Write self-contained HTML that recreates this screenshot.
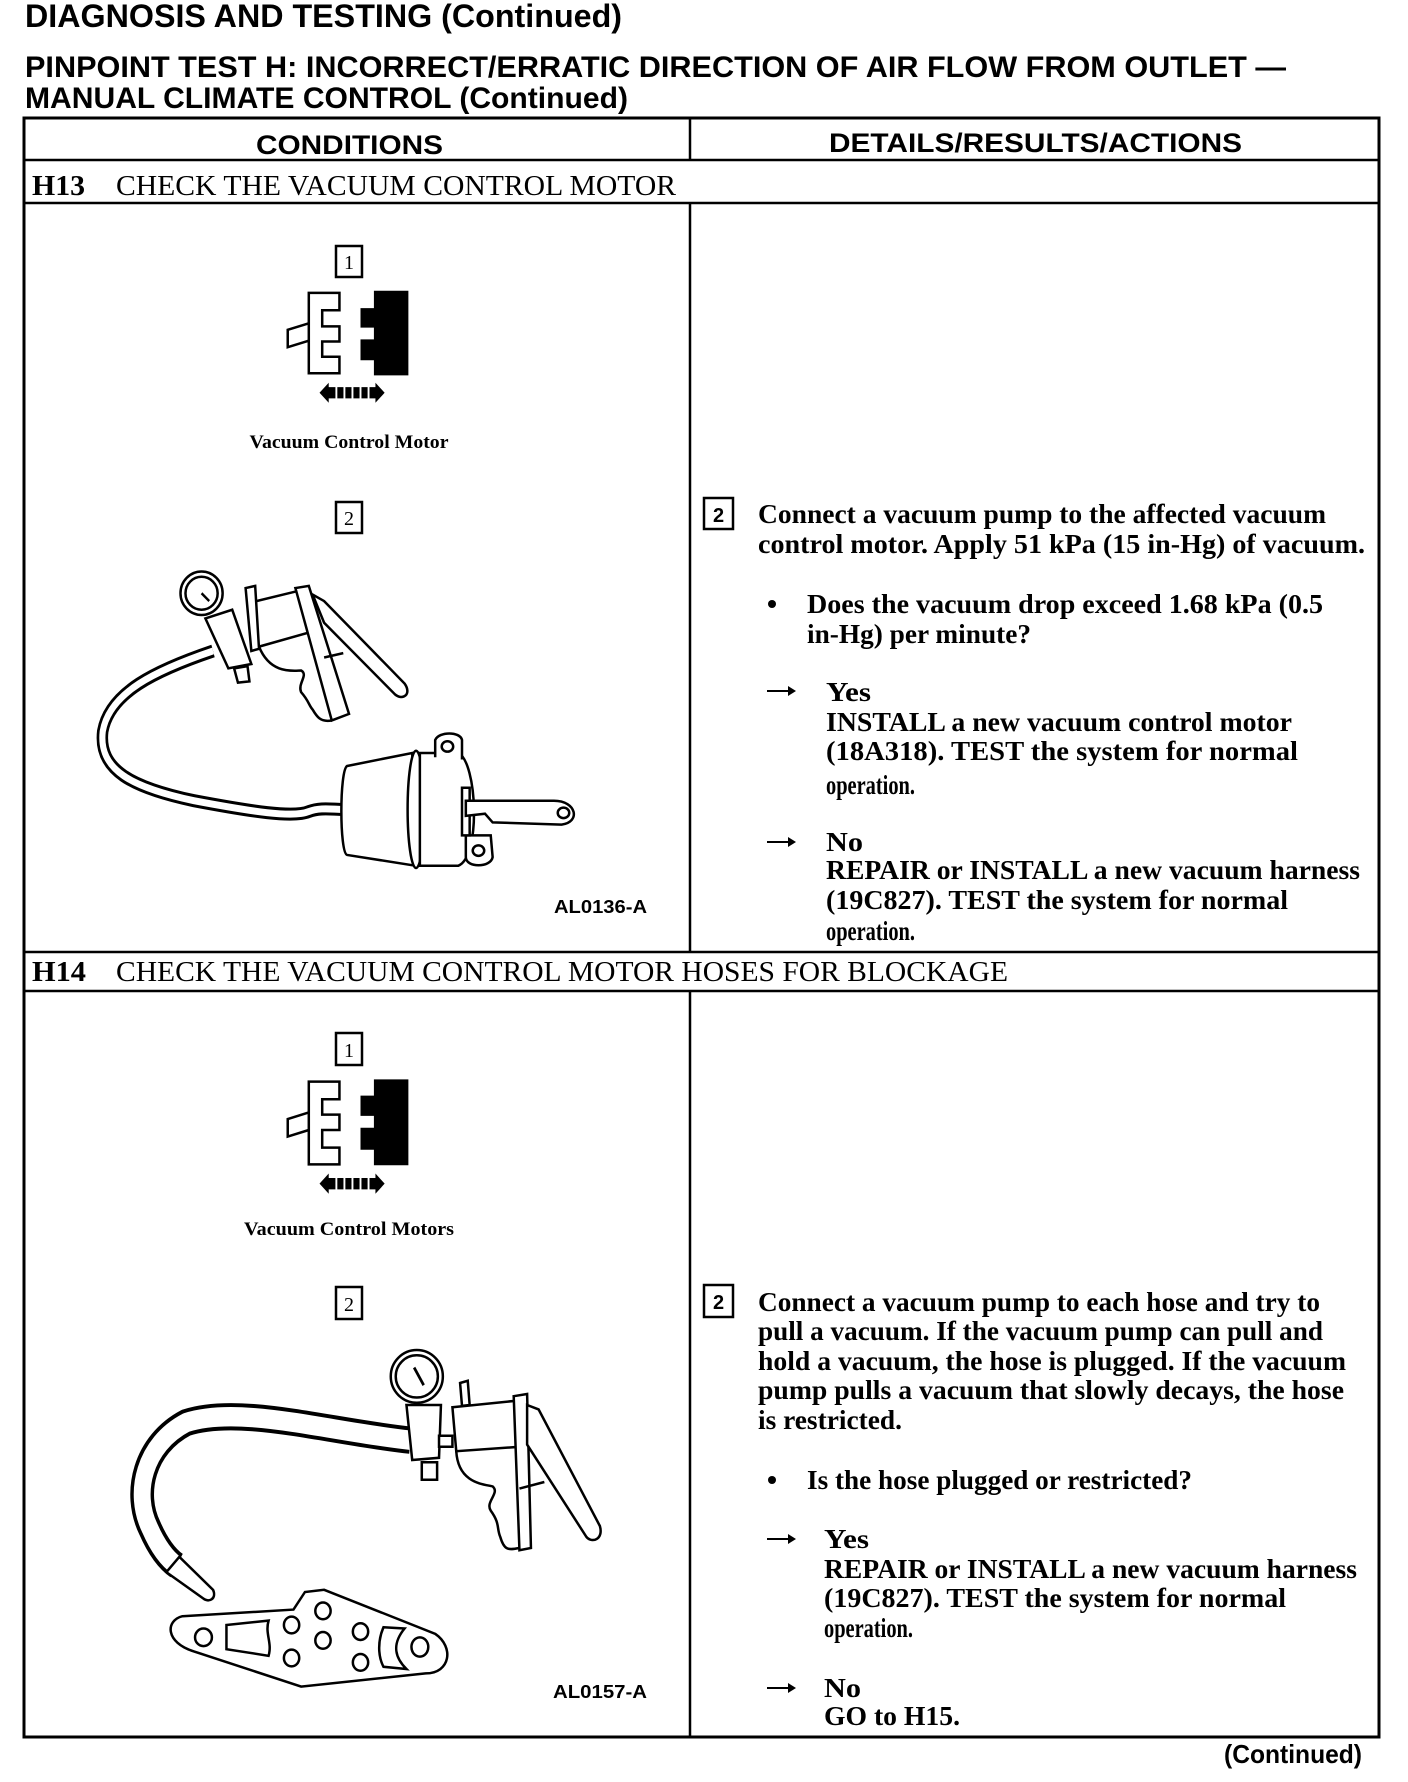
<!DOCTYPE html>
<html><head><meta charset="utf-8"><style>
html,body{margin:0;padding:0;background:#fff}
svg{display:block}
.s{font-family:"Liberation Sans",sans-serif;font-weight:bold}
.r{font-family:"Liberation Serif",serif;font-weight:bold}
</style></head><body>
<svg width="1408" height="1782" viewBox="0 0 1408 1782" xmlns="http://www.w3.org/2000/svg">
<rect width="1408" height="1782" fill="#fff"/>
<!-- headings -->
<text class="s" x="25" y="27" font-size="32" textLength="597" lengthAdjust="spacingAndGlyphs">DIAGNOSIS AND TESTING (Continued)</text>
<text class="s" x="25" y="77" font-size="30" textLength="1261" lengthAdjust="spacingAndGlyphs">PINPOINT TEST H: INCORRECT/ERRATIC DIRECTION OF AIR FLOW FROM OUTLET —</text>
<text class="s" x="25" y="108" font-size="30" textLength="603" lengthAdjust="spacingAndGlyphs">MANUAL CLIMATE CONTROL (Continued)</text>

<!-- table -->
<g stroke="#000" fill="none">
<rect x="24" y="118" width="1355" height="1619" stroke-width="3"/>
<line x1="24" y1="160" x2="1379" y2="160" stroke-width="2.5"/>
<line x1="24" y1="203" x2="1379" y2="203" stroke-width="2.5"/>
<line x1="24" y1="952" x2="1379" y2="952" stroke-width="2.5"/>
<line x1="24" y1="991" x2="1379" y2="991" stroke-width="2.5"/>
<line x1="690" y1="118" x2="690" y2="160" stroke-width="2.5"/>
<line x1="690" y1="203" x2="690" y2="952" stroke-width="2.5"/>
<line x1="690" y1="991" x2="690" y2="1737" stroke-width="2.5"/>
</g>
<text class="s" x="256" y="154" font-size="27" textLength="187" lengthAdjust="spacingAndGlyphs">CONDITIONS</text>
<text class="s" x="829" y="152" font-size="27" textLength="413" lengthAdjust="spacingAndGlyphs">DETAILS/RESULTS/ACTIONS</text>
<text class="r" x="32" y="195" font-size="28" textLength="53" lengthAdjust="spacingAndGlyphs">H13</text>
<text class="r" x="116" y="195" font-size="28" style="font-weight:normal" textLength="560" lengthAdjust="spacingAndGlyphs">CHECK THE VACUUM CONTROL MOTOR</text>
<text class="r" x="32" y="981" font-size="28" textLength="54" lengthAdjust="spacingAndGlyphs">H14</text>
<text class="r" x="116" y="981" font-size="28" style="font-weight:normal" textLength="892" lengthAdjust="spacingAndGlyphs">CHECK THE VACUUM CONTROL MOTOR HOSES FOR BLOCKAGE</text>
<text class="s" x="1224" y="1763" font-size="26" textLength="138" lengthAdjust="spacingAndGlyphs">(Continued)</text>

<!-- right text H13 -->
<rect x="704" y="498" width="29" height="31" fill="none" stroke="#000" stroke-width="2.5"/>
<text class="s" x="718.5" y="522" font-size="20" text-anchor="middle">2</text>
<g class="r" font-size="27">
<text x="758" y="523" textLength="568" lengthAdjust="spacingAndGlyphs">Connect a vacuum pump to the affected vacuum</text>
<text x="758" y="553" textLength="607" lengthAdjust="spacingAndGlyphs">control motor. Apply 51 kPa (15 in-Hg) of vacuum.</text>
<text x="807" y="613" textLength="516" lengthAdjust="spacingAndGlyphs">Does the vacuum drop exceed 1.68 kPa (0.5</text>
<text x="807" y="643" textLength="224" lengthAdjust="spacingAndGlyphs">in-Hg) per minute?</text>
<text x="826" y="701" textLength="45" lengthAdjust="spacingAndGlyphs">Yes</text>
<text x="826" y="731" textLength="466" lengthAdjust="spacingAndGlyphs">INSTALL a new vacuum control motor</text>
<text x="826" y="760" textLength="472" lengthAdjust="spacingAndGlyphs">(18A318).  TEST  the system for normal</text>
<text x="826" y="794" textLength="89" lengthAdjust="spacingAndGlyphs">operation.</text>
<text x="826" y="851" textLength="37" lengthAdjust="spacingAndGlyphs">No</text>
<text x="826" y="879" textLength="534" lengthAdjust="spacingAndGlyphs">REPAIR or INSTALL a new vacuum harness</text>
<text x="826" y="909" textLength="462" lengthAdjust="spacingAndGlyphs">(19C827). TEST the system for normal</text>
<text x="826" y="940" textLength="89" lengthAdjust="spacingAndGlyphs">operation.</text>
</g>
<circle cx="772" cy="604" r="4" fill="#000"/>
<g fill="#000">
<path d="M767 690 L788 690 L788 686 L796 691 L788 696 L788 692 L767 692 Z"/>
<path d="M767 841 L788 841 L788 837 L796 842 L788 847 L788 843 L767 843 Z"/>
</g>

<!-- right text H14 -->
<rect x="704" y="1285" width="29" height="32" fill="none" stroke="#000" stroke-width="2.5"/>
<text class="s" x="718.5" y="1309" font-size="20" text-anchor="middle">2</text>
<g class="r" font-size="27">
<text x="758" y="1311" textLength="562" lengthAdjust="spacingAndGlyphs">Connect a vacuum pump to each hose and try to</text>
<text x="758" y="1340" textLength="565" lengthAdjust="spacingAndGlyphs">pull a vacuum. If the vacuum pump can pull and</text>
<text x="758" y="1370" textLength="588" lengthAdjust="spacingAndGlyphs">hold a vacuum, the hose is plugged. If the vacuum</text>
<text x="758" y="1399" textLength="586" lengthAdjust="spacingAndGlyphs">pump pulls a vacuum that slowly decays, the hose</text>
<text x="758" y="1429" textLength="144" lengthAdjust="spacingAndGlyphs">is restricted.</text>
<text x="807" y="1489" textLength="385" lengthAdjust="spacingAndGlyphs">Is the hose plugged or restricted?</text>
<text x="824" y="1548" textLength="45" lengthAdjust="spacingAndGlyphs">Yes</text>
<text x="824" y="1578" textLength="533" lengthAdjust="spacingAndGlyphs">REPAIR or INSTALL a new vacuum harness</text>
<text x="824" y="1607" textLength="462" lengthAdjust="spacingAndGlyphs">(19C827). TEST the system for normal</text>
<text x="824" y="1637" textLength="89" lengthAdjust="spacingAndGlyphs">operation.</text>
<text x="824" y="1697" textLength="37" lengthAdjust="spacingAndGlyphs">No</text>
<text x="824" y="1725" textLength="136" lengthAdjust="spacingAndGlyphs">GO to H15.</text>
</g>
<circle cx="772" cy="1480" r="4" fill="#000"/>
<g fill="#000">
<path d="M767 1538 L788 1538 L788 1534 L796 1539 L788 1544 L788 1540 L767 1540 Z"/>
<path d="M767 1687 L788 1687 L788 1683 L796 1688 L788 1693 L788 1689 L767 1689 Z"/>
</g>

<!-- left labels -->
<text class="r" x="349" y="448" font-size="19" text-anchor="middle" textLength="199" lengthAdjust="spacingAndGlyphs">Vacuum Control Motor</text>
<text class="r" x="349" y="1235" font-size="19" text-anchor="middle" textLength="210" lengthAdjust="spacingAndGlyphs">Vacuum Control Motors</text>
<text class="s" x="554" y="913" font-size="18" textLength="93" lengthAdjust="spacingAndGlyphs">AL0136-A</text>
<text class="s" x="553" y="1698" font-size="18" textLength="94" lengthAdjust="spacingAndGlyphs">AL0157-A</text>
<g fill="none" stroke="#000" stroke-width="2.5">
<rect x="336" y="246" width="26" height="31"/>
<rect x="336" y="502" width="26" height="31"/>
<rect x="336" y="1033" width="26" height="32"/>
<rect x="336" y="1287" width="26" height="32"/>
</g>
<g class="r" font-size="20" text-anchor="middle" style="font-weight:normal">
<text x="349" y="269" style="font-weight:normal">1</text>
<text x="349" y="525" style="font-weight:normal">2</text>
<text x="349" y="1057" style="font-weight:normal">1</text>
<text x="349" y="1311" style="font-weight:normal">2</text>
</g>

<!-- H13 illustration (zoom coords) -->
<g transform="translate(79,230) scale(0.383,0.434)">
<g fill="none" stroke="#000" stroke-width="2.5">
<path vector-effect="non-scaling-stroke" d="M600 145 L680 145 L680 185 L635 185 L635 222 L680 222 L680 257 L635 257 L635 292 L680 292 L680 330 L600 330 Z"/>
<path vector-effect="non-scaling-stroke" d="M600 215 L545 230 L545 270 L600 255"/>
</g>
<path fill="#000" d="M770 140 L860 140 L860 335 L770 335 L770 300 L735 300 L735 252 L770 252 L770 225 L735 225 L735 180 L770 180 Z"/>
<path fill="#000" d="M628 375 L652 352 L652 398 Z M798 375 L774 352 L774 398 Z M652 362 H774 V388 H652 Z"/>
<g stroke="#fff" stroke-width="5"><line x1="672" y1="360" x2="672" y2="390"/><line x1="693" y1="360" x2="693" y2="390"/><line x1="714" y1="360" x2="714" y2="390"/><line x1="735" y1="360" x2="735" y2="390"/><line x1="756" y1="360" x2="756" y2="390"/></g>
<g transform="translate(0,25)">
<path d="M350 945 C200 990 80 1040 62 1130 C50 1220 140 1260 300 1290 C450 1315 560 1330 600 1315 C630 1305 660 1310 690 1310" fill="none" stroke="#000" stroke-width="30"/>
<path d="M350 945 C200 990 80 1040 62 1130 C50 1220 140 1260 300 1290 C450 1315 560 1330 600 1315 C630 1305 660 1310 690 1310" fill="none" stroke="#fff" stroke-width="16"/>
<g fill="#fff" stroke="#000" stroke-width="2.5">
<path vector-effect="non-scaling-stroke" d="M330 870 L400 850 L450 975 L390 985 Z"/>
<path vector-effect="non-scaling-stroke" d="M405 985 L440 980 L445 1015 L415 1018 Z"/>
<path vector-effect="non-scaling-stroke" d="M440 835 L580 805 L610 900 L470 935 Z"/>
<path vector-effect="non-scaling-stroke" d="M435 800 L460 795 L470 940 L450 945 Z"/>
<path vector-effect="non-scaling-stroke" d="M565 800 L600 795 L705 1090 L660 1105 Z"/>
<path vector-effect="non-scaling-stroke" d="M610 815 L640 830 L850 1020 C870 1045 845 1060 825 1045 L640 880 Z"/>
<path vector-effect="non-scaling-stroke" d="M640 960 L690 950" />
<path vector-effect="non-scaling-stroke" fill="none" d="M470 935 C500 1000 560 990 580 990 C600 1000 570 1020 580 1040 C600 1060 600 1070 610 1080 C620 1095 630 1110 660 1105"/>
<ellipse vector-effect="non-scaling-stroke" cx="320" cy="812" rx="55" ry="50"/>
<ellipse vector-effect="non-scaling-stroke" cx="320" cy="812" rx="42" ry="38"/>
<path vector-effect="non-scaling-stroke" d="M700 1210 L870 1180 L880 1440 L700 1415 C680 1410 680 1220 700 1210 Z"/>
<ellipse vector-effect="non-scaling-stroke" cx="880" cy="1310" rx="22" ry="135"/>
<path vector-effect="non-scaling-stroke" d="M890 1180 L990 1180 C1040 1200 1050 1420 990 1440 L890 1440 Z"/>
<path vector-effect="non-scaling-stroke" d="M930 1190 L930 1150 C940 1130 995 1130 1000 1150 L1000 1195"/>
<ellipse vector-effect="non-scaling-stroke" cx="962" cy="1165" rx="15" ry="12"/>
<path vector-effect="non-scaling-stroke" d="M1010 1370 L1010 1420 C1010 1445 1075 1445 1080 1420 L1075 1370 Z"/>
<ellipse vector-effect="non-scaling-stroke" cx="1043" cy="1405" rx="15" ry="12"/>
<rect vector-effect="non-scaling-stroke" x="1000" y="1260" width="20" height="110"/>
<path vector-effect="non-scaling-stroke" d="M1010 1290 L1240 1290 C1300 1290 1310 1340 1260 1345 L1080 1340 L1060 1320 L1010 1325 Z"/>
<ellipse vector-effect="non-scaling-stroke" cx="1265" cy="1318" rx="15" ry="12"/>
</g>
<line x1="320" y1="812" x2="340" y2="830" stroke="#000" stroke-width="6"/>
</g>
</g>

<!-- H14 illustration (zoom coords) -->
<g transform="translate(79,1020) scale(0.383,0.44)">
<g fill="none" stroke="#000" stroke-width="2.5">
<path vector-effect="non-scaling-stroke" d="M600 140 L680 140 L680 180 L635 180 L635 215 L680 215 L680 250 L635 250 L635 290 L680 290 L680 328 L600 328 Z"/>
<path vector-effect="non-scaling-stroke" d="M600 210 L545 225 L545 265 L600 250"/>
</g>
<path fill="#000" d="M770 135 L860 135 L860 330 L770 330 L770 295 L735 295 L735 245 L770 245 L770 218 L735 218 L735 172 L770 172 Z"/>
<path fill="#000" d="M628 372 L652 349 L652 395 Z M798 372 L774 349 L774 395 Z M652 359 H774 V385 H652 Z"/>
<g stroke="#fff" stroke-width="5"><line x1="672" y1="357" x2="672" y2="387"/><line x1="693" y1="357" x2="693" y2="387"/><line x1="714" y1="357" x2="714" y2="387"/><line x1="735" y1="357" x2="735" y2="387"/><line x1="756" y1="357" x2="756" y2="387"/></g>
<g transform="translate(0,15)">
<path d="M865 940 C650 920 420 860 280 900 C170 950 140 1060 185 1140 C205 1180 230 1210 255 1225" fill="none" stroke="#000" stroke-width="62"/>
<path d="M865 940 C650 920 420 860 280 900 C170 950 140 1060 185 1140 C205 1180 230 1210 255 1225" fill="none" stroke="#fff" stroke-width="44"/>
<g fill="#fff" stroke="#000" stroke-width="2.5">
<path vector-effect="non-scaling-stroke" d="M228 1240 L262 1205 L350 1280 C360 1300 340 1310 325 1300 Z"/>
<path vector-effect="non-scaling-stroke" d="M270 1340 L560 1325 L590 1285 L640 1280 L930 1380 C980 1410 970 1470 905 1470 L580 1500 L300 1420 C225 1400 225 1350 270 1340 Z"/>
<ellipse vector-effect="non-scaling-stroke" cx="325" cy="1388" rx="22" ry="20"/>
<ellipse vector-effect="non-scaling-stroke" cx="555" cy="1360" rx="20" ry="19"/>
<ellipse vector-effect="non-scaling-stroke" cx="555" cy="1435" rx="20" ry="19"/>
<ellipse vector-effect="non-scaling-stroke" cx="637" cy="1328" rx="20" ry="19"/>
<ellipse vector-effect="non-scaling-stroke" cx="637" cy="1395" rx="20" ry="19"/>
<ellipse vector-effect="non-scaling-stroke" cx="735" cy="1375" rx="20" ry="19"/>
<ellipse vector-effect="non-scaling-stroke" cx="735" cy="1445" rx="20" ry="19"/>
<ellipse vector-effect="non-scaling-stroke" cx="890" cy="1410" rx="22" ry="22"/>
<path vector-effect="non-scaling-stroke" d="M385 1360 L495 1350 C485 1380 505 1400 495 1430 L385 1415 Z"/>
<path vector-effect="non-scaling-stroke" d="M795 1365 L850 1368 C820 1400 820 1430 855 1460 L795 1455 C780 1430 780 1395 795 1365 Z"/>
<path vector-effect="non-scaling-stroke" d="M855 860 L945 860 L940 980 L870 985 Z"/>
<rect vector-effect="non-scaling-stroke" x="895" y="990" width="40" height="40"/>
<path vector-effect="non-scaling-stroke" d="M975 865 L1145 850 L1150 955 L985 965 Z"/>
<path vector-effect="non-scaling-stroke" d="M995 810 L1015 805 L1020 860 L1000 862 Z"/>
<path vector-effect="non-scaling-stroke" d="M1135 840 L1170 835 L1180 1185 L1150 1190 Z"/>
<path vector-effect="non-scaling-stroke" d="M1170 860 L1200 870 L1360 1135 C1370 1165 1340 1175 1325 1160 L1170 950 Z"/>
<path vector-effect="non-scaling-stroke" fill="none" d="M985 965 C990 1040 1060 1040 1080 1045 C1100 1060 1060 1080 1075 1100 C1100 1130 1090 1140 1100 1160 C1110 1190 1120 1190 1150 1185"/>
<path vector-effect="non-scaling-stroke" fill="none" d="M1150 1050 L1215 1035"/>
<ellipse vector-effect="non-scaling-stroke" cx="882" cy="795" rx="68" ry="60"/>
<ellipse vector-effect="non-scaling-stroke" cx="882" cy="795" rx="55" ry="48"/>
<rect vector-effect="non-scaling-stroke" x="940" y="930" width="35" height="25"/>
</g>
<line x1="875" y1="775" x2="900" y2="815" stroke="#000" stroke-width="7"/>
</g>
</g>
</svg>
</body></html>
